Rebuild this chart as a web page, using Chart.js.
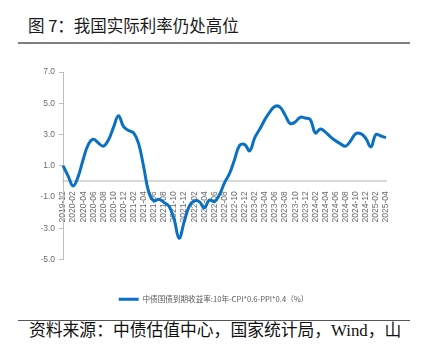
<!DOCTYPE html>
<html>
<head>
<meta charset="utf-8">
<script src="https://cdn.jsdelivr.net/npm/chart.js@4"></script>
<style>
	body{margin:0;width:424px;height:354px;background:#fff;position:relative;overflow:hidden;font-family:"Noto Sans CJK SC",sans-serif}
	#title{position:absolute;left:28px;top:14px;font-size:16.5px;line-height:22px;color:#1a1a1a;white-space:nowrap}
	#rule1{position:absolute;left:18px;top:42px;width:392px;height:2px;background:#808080}
	#wrap{position:absolute;left:0;top:50px;width:424px;height:263px}
	#rule2{position:absolute;left:18px;top:320px;width:392px;height:1px;background:#555}
	#source{position:absolute;left:29px;top:321px;font-size:16.8px;line-height:20px;color:#111;white-space:nowrap;font-family:"Liberation Serif","Noto Sans CJK SC",serif}
</style>
</head>
<body>
<div id="title">图 7：我国实际利率仍处高位</div>
<div id="rule1"></div>
<div id="wrap"><canvas id="rateCanvas" width="424" height="263"></canvas></div>
<div id="rule2"></div>
<div id="source">资料来源：中债估值中心，国家统计局，Wind，山</div>
<script>
/* 월별 카테고리 (2019-12 ~ 2025-04) */
const months = [
	'2019-12',
	'2020-01','2020-02','2020-03','2020-04','2020-05','2020-06','2020-07','2020-08','2020-09','2020-10','2020-11','2020-12',
	'2021-01','2021-02','2021-03','2021-04','2021-05','2021-06','2021-07','2021-08','2021-09','2021-10','2021-11','2021-12',
	'2022-01','2022-02','2022-03','2022-04','2022-05','2022-06','2022-07','2022-08','2022-09','2022-10','2022-11','2022-12',
	'2023-01','2023-02','2023-03','2023-04','2023-05','2023-06','2023-07','2023-08','2023-09','2023-10','2023-11','2023-12',
	'2024-01','2024-02','2024-03','2024-04','2024-05','2024-06','2024-07','2024-08','2024-09','2024-10','2024-11','2024-12',
	'2025-01','2025-02','2025-03','2025-04'
]

/* 실제금리 (%) */
const realRate = [
	1.0,
	0.35,-0.3,0.3,1.4,2.35,2.7,2.45,2.25,2.65,3.45,4.2,3.5,
	3.25,3.1,2.4,0.9,-0.7,-1.25,-1.15,-1.35,-1.6,-2.4,-3.65,-2.6,
	-1.6,-1.25,-1.3,-1.7,-1.2,-1.3,-0.85,-0.1,0.5,1.4,2.3,2.35,
	1.95,2.8,3.35,3.95,4.45,4.8,4.75,4.25,3.7,3.8,4.1,4.05,
	3.95,3.1,3.35,3.15,2.85,2.6,2.4,2.25,2.6,3.05,3.05,2.75,
	2.2,3.0,2.9,2.8
]

const seriesName = '中债国债到期收益率:10年-CPI*0.6-PPI*0.4（%）'

/* y축 눈금 */
const yTicks = [-5,-3,-1,1,3,5,7]

const axisFont = {family:'"Liberation Sans","Noto Sans CJK SC",sans-serif', size:8.5}

const rateChart = new Chart(document.getElementById('rateCanvas'),{
	type : 'line'
	,data : {
		labels : months
		,datasets : [{
			label : seriesName
			,data : realRate
			,borderColor : '#0a70c2'
			,backgroundColor : '#0a70c2'
			,borderWidth : 3
			,pointRadius : 0
			,tension : 0.4
		}]
	}
	,options : {
		responsive : false
		,animation : false
		,layout : { padding : {left:41, right:38, top:22, bottom:0} }
		,plugins : {
			legend : {
				position : 'bottom'
				,labels : {
					boxWidth : 20
					,boxHeight : 3
					,padding : 36
					,color : '#595959'
					,font : {family:'"Noto Sans CJK SC",sans-serif', size:7.6}
					,generateLabels : function(chart){
						// 범례 상자는 얇은 선으로
						const items = Chart.defaults.plugins.legend.labels.generateLabels(chart)
						items.forEach(it => { it.lineWidth = 0 })
						return items
					}
				}
			}
			,tooltip : { enabled : false }
		}
		,scales : {
			x : {
				position : { y : 0 }
				,offset : false
				,grid : { display : false }
				,border : { color : '#d9d9d9', width : 2 }
				,ticks : {
					autoSkip : false
					,minRotation : 90
					,maxRotation : 90
					,padding : 2
					,color : '#6b6b6b'
					,font : axisFont
					,callback : function(v, i){
						return i % 2 == 0 ? months[i] : ''
					}
				}
			}
			,y : {
				min : -5
				,max : 7
				,afterFit : function(scale){ scale.width = 22 }
				,afterBuildTicks : function(scale){
					scale.ticks = yTicks.map(v => ({value : v}))
				}
				,grid : { drawOnChartArea : false, tickLength : 4, color : '#bfbfbf' }
				,border : { color : '#bfbfbf' }
				,ticks : {
					padding : 4
					,color : '#6b6b6b'
					,font : axisFont
					,callback : v => v.toFixed(1)
				}
			}
		}
	}
})
</script>
</body>
</html>
